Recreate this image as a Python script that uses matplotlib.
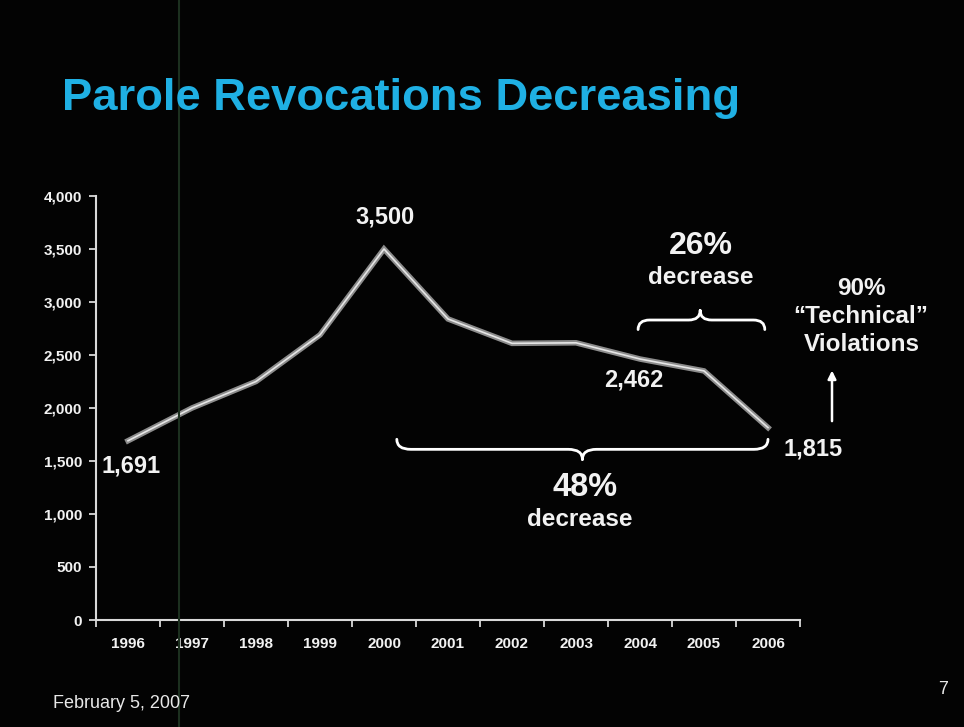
import matplotlib.pyplot as plt
from matplotlib.path import Path
from matplotlib.patches import PathPatch
from matplotlib.ticker import FuncFormatter, FixedLocator

plt.rcParams['font.family'] = ['Liberation Sans', 'DejaVu Sans']

anos = ['1996', '1997', '1998', '1999', '2000', '2001', '2002', '2003', '2004', '2005', '2006']
revogacoes = [1691, 2000, 2250, 2690, 3500, 2840, 2610, 2615, 2462, 2350, 1815]
yticks = [0, 500, 1000, 1500, 2000, 2500, 3000, 3500, 4000]

FUNDO = '#030303'
TEXTO = '#f2f2f2'
EIXO = '#d9d9d9'


def chave(ax, x0, x1, xm, y, h, r=0.2, lw=2):
    # chave horizontal: pontas em y - h, bico em y + h (h negativo inverte)
    verts = [
        (x0, y - h), (x0, y), (x0 + r, y),
        (xm - r, y),
        (xm, y), (xm, y + h),
        (xm, y + h), (xm, y), (xm + r, y),
        (x1 - r, y),
        (x1, y), (x1, y - h),
    ]
    codes = [Path.MOVETO, Path.CURVE3, Path.CURVE3,
             Path.LINETO,
             Path.CURVE3, Path.CURVE3,
             Path.MOVETO, Path.CURVE3, Path.CURVE3,
             Path.LINETO,
             Path.CURVE3, Path.CURVE3]
    ax.add_patch(PathPatch(Path(verts, codes), fill=False, edgecolor='white',
                           lw=lw, clip_on=False, capstyle='round'))


fig = plt.figure(figsize=(9.64, 7.27), dpi=100, facecolor=FUNDO)
ax = fig.add_axes([96 / 964, 107 / 727, 704 / 964, 424 / 727])
ax.set_facecolor(FUNDO)

x = list(range(len(anos)))
ax.plot(x, revogacoes, color='#8c8c8c', lw=4, solid_joinstyle='miter', zorder=3)
ax.plot(x, revogacoes, color='#e6e6e6', lw=1.2, zorder=4)

ax.set_xlim(-0.5, len(anos) - 0.5)
ax.set_ylim(0, 4000)
ax.set_xticks(x)
ax.set_xticklabels(anos)
ax.xaxis.set_minor_locator(FixedLocator([i - 0.5 for i in range(len(anos) + 1)]))
ax.set_yticks(yticks)
ax.yaxis.set_major_formatter(FuncFormatter(lambda v, p: f'{int(v):,}'))

ax.tick_params(axis='x', which='major', length=0, pad=12, labelsize=11, labelcolor=TEXTO)
ax.tick_params(axis='x', which='minor', length=5, width=1.3, color=EIXO, direction='out')
ax.tick_params(axis='y', length=5, width=1.3, color=EIXO, pad=5, labelsize=11, labelcolor=TEXTO)
for lbl in ax.get_xticklabels() + ax.get_yticklabels():
    lbl.set_fontweight('bold')

for lado in ['top', 'right']:
    ax.spines[lado].set_visible(False)
for lado in ['left', 'bottom']:
    ax.spines[lado].set_color(EIXO)
    ax.spines[lado].set_linewidth(1.5)

# rótulos dos pontos
rot = dict(color=TEXTO, fontsize=17, fontweight='bold', ha='center', va='center', clip_on=False)
ax.text(4.02, 3800, f'{revogacoes[4]:,}', **rot)
ax.text(0.05, 1450, f'{revogacoes[0]:,}', **rot)
ax.text(7.9, 2260, f'{revogacoes[8]:,}', **rot)
ax.text(10.7, 1610, f'{revogacoes[10]:,}', **rot)

# queda de 26% (2004-2006)
chave(ax, 7.97, 9.95, 8.94, 2830, 90, r=0.18)
ax.text(8.95, 3530, '26%', color=TEXTO, fontsize=23, fontweight='bold', ha='center', va='center')
ax.text(8.95, 3230, 'decrease', color=TEXTO, fontsize=17.5, fontweight='bold', ha='center', va='center')

# queda de 48% (2000-2006)
chave(ax, 4.2, 10.0, 7.1, 1610, -95, r=0.22)
ax.text(7.14, 1250, '48%', color=TEXTO, fontsize=23.5, fontweight='bold', ha='center', va='center')
ax.text(7.06, 950, 'decrease', color=TEXTO, fontsize=17.5, fontweight='bold', ha='center', va='center')

# violações técnicas
ax.annotate('', xy=(11.0, 2380), xytext=(11.0, 1850), annotation_clip=False,
            arrowprops=dict(arrowstyle='-|>', color='white', lw=1.8, mutation_scale=12))
viol = dict(color=TEXTO, fontsize=17.5, fontweight='bold', ha='center', va='center', clip_on=False)
ax.text(11.46, 3130, '90%', **viol)
ax.text(11.45, 2860, '\u201cTechnical\u201d', **viol)
ax.text(11.47, 2600, 'Violations', **viol)

fig.text(62 / 964, 1 - 110 / 727, 'Parole Revocations Decreasing', color='#1fb0e4',
         fontsize=32.7, fontweight='bold', ha='left', va='baseline')
fig.text(53 / 964, 1 - 703 / 727, 'February 5, 2007', color='#e8e8e8', fontsize=13,
         ha='left', va='center')
fig.text(943 / 964, 1 - 690 / 727, '7', color='#e8e8e8', fontsize=13, ha='center', va='center')

# risco vertical da digitalização
fig.add_artist(plt.Line2D([179 / 964, 179 / 964], [0, 1], transform=fig.transFigure,
                          color='#1c301f', lw=1.5))

fig.savefig('out.png', dpi=100, facecolor=FUNDO)
